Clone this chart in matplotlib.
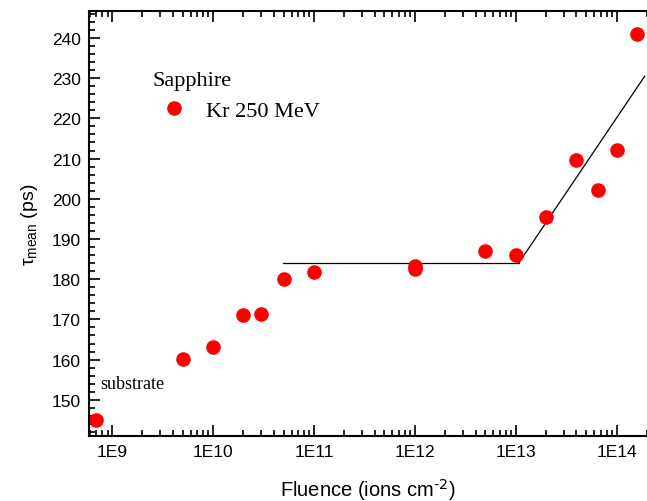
import numpy as np
import matplotlib
matplotlib.use("Agg")
import matplotlib.pyplot as plt
from matplotlib.ticker import FixedLocator, FuncFormatter, MultipleLocator, LogLocator, NullFormatter

# Positron lifetime vs fluence, Kr 250 MeV in sapphire
fluence = [6.9e8, 5e9, 1e10, 2e10, 3e10, 5e10, 1e11, 1e12, 1e12,
           5e12, 1e13, 2e13, 4e13, 6.6e13, 1e14, 1.6e14]
tau_mean = [145.0, 160.1, 163.2, 171.2, 171.4, 180.1, 181.9, 183.3, 182.6,
            186.9, 185.9, 195.5, 209.6, 202.1, 212.1, 241.0]

# guide lines: plateau and rise
plateau_x = [4.9e10, 1.07e13]
plateau_y = [184.0, 184.0]
rise_x = [1.07e13, 1.9e14]
rise_y = [184.0, 230.5]

plt.rcParams['font.family'] = ['Liberation Sans', 'DejaVu Sans']
plt.rcParams['mathtext.default'] = 'regular'

fig = plt.figure(figsize=(6.47, 5.02), dpi=100)
ax = fig.add_axes([89/647, 65/502, 558/647, 425/502])

ax.plot(plateau_x, plateau_y, color='black', lw=0.9)
ax.plot(rise_x, rise_y, color='black', lw=0.9)
ax.plot(fluence, tau_mean, 'o', color='#ff0000', ms=10.5, mec='none',
        label='Kr 250 MeV')

ax.set_xscale('log')
ax.set_xlim(5.9e8, 2.0e14)
ax.set_ylim(141, 246.7)

ax.xaxis.set_major_locator(FixedLocator([1e9, 1e10, 1e11, 1e12, 1e13, 1e14]))
ax.xaxis.set_major_formatter(FuncFormatter(lambda v, p: "1E%d" % round(np.log10(v))))
ax.xaxis.set_minor_locator(LogLocator(base=10, subs=np.arange(2, 10)))
ax.xaxis.set_minor_formatter(NullFormatter())
ax.yaxis.set_major_locator(MultipleLocator(10))
ax.yaxis.set_minor_locator(MultipleLocator(2))

ax.tick_params(which='both', direction='in', top=True, right=False, width=1.2)
ax.tick_params(which='major', length=8, labelsize=12.5, pad=6)
ax.tick_params(which='minor', length=4)
ax.spines['right'].set_visible(False)
for s in ['left', 'bottom', 'top']:
    ax.spines[s].set_linewidth(1.5)

ax.set_xlabel(r'Fluence (ions cm$^{\text{-2}}$)', fontsize=14.5, labelpad=12)
ax.set_ylabel(r'$\tau_{mean}$ (ps)', fontsize=14, labelpad=8)

ax.text(7.6e8, 153.0, 'substrate', fontsize=13, family='Liberation Serif')

leg = ax.legend(loc='upper left', bbox_to_anchor=(0.113, 0.86), frameon=False,
                title='Sapphire', alignment='left', borderpad=0, borderaxespad=0,
                handletextpad=0.45, handlelength=2.0,
                prop={'family': 'Liberation Serif', 'size': 16})
leg.get_title().set_fontfamily('Liberation Serif')
leg.get_title().set_fontsize(16)

fig.savefig('out.png', dpi=100)
